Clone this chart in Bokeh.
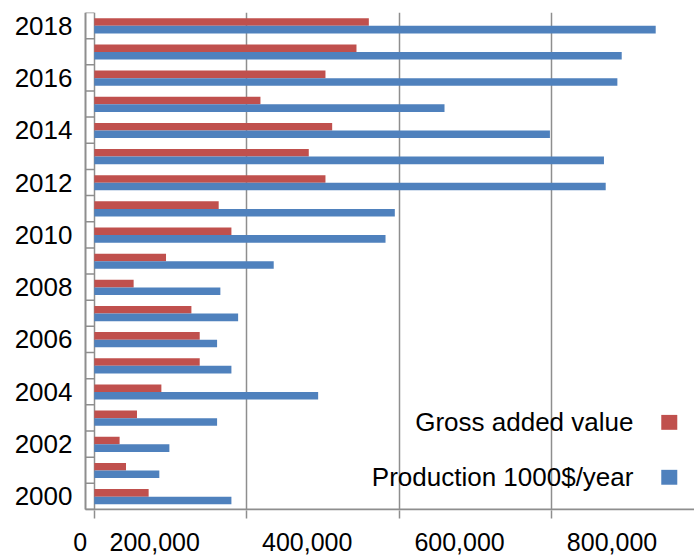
from bokeh.plotting import figure
from bokeh.models import FixedTicker, LinearAxis, Range1d, Label, BoxAnnotation, ColumnDataSource, Span
from bokeh.embed import file_html
from bokeh.resources import INLINE

# ---- data ----
years = list(range(2000, 2019))
gross_added_value = [71300, 41600, 33200, 56000, 88000, 138300, 138300, 127400, 51600, 94100,
                     179900, 163200, 303300, 281400, 312100, 218000, 303300, 344000, 360200]
production = [179900, 85300, 98500, 161100, 293700, 179900, 161100, 188700, 165400, 235400,
              382100, 394300, 671000, 668700, 597800, 459500, 686300, 692000, 736600]
x_tick_values = [0, 200000, 400000, 600000, 800000]
x_tick_labels = ["0", "200,000", "400,000", "600,000", "800,000"]
y_tick_years = list(range(2000, 2019, 2))

RED = "#C0504D"
BLUE = "#4F81BD"
GRAY = "#8E8E8E"
FONT = "Liberation Sans"

x_start, x_end = -27300, 787500      # frame extends a little left of the value axis
axis_x = -11550                      # where the vertical axis line sits
y_start, y_end = years[0] - 0.5 - 0.04, years[-1] + 0.5
p = figure(width=694, height=559,
           x_range=Range1d(x_start, x_end), y_range=Range1d(y_start, y_end),
           output_backend="svg", toolbar_location=None,
           min_border_left=73, min_border_right=0, min_border_top=12, min_border_bottom=49,
           outline_line_color=None, background_fill_color="white", border_fill_color="white")

src = ColumnDataSource(dict(
    y_red=[y + 0.135 for y in years],
    y_blue=[y - 0.155 for y in years],
    gav=gross_added_value,
    prod=production,
))
p.hbar(y="y_red", left=0, right="gav", height=0.29, source=src, fill_color=RED, line_color=None)
p.hbar(y="y_blue", left=0, right="prod", height=0.29, source=src, fill_color=BLUE, line_color=None)

# axis lines and category boundary ticks
bounds = [y - 0.5 for y in years] + [years[-1] + 0.5]
p.segment(x0=[axis_x] * len(bounds), x1=[0] * len(bounds), y0=bounds, y1=bounds,
          line_color=GRAY, line_width=1.5)
p.segment(x0=[axis_x], x1=[x_end], y0=[years[0] - 0.5], y1=[years[0] - 0.5],
          line_color=GRAY, line_width=2)
p.segment(x0=[axis_x], x1=[axis_x], y0=[years[0] - 0.5], y1=[years[-1] + 0.5],
          line_color=GRAY, line_width=2)

# grid
p.ygrid.visible = False
p.xgrid.ticker = FixedTicker(ticks=x_tick_values)
p.xgrid.grid_line_color = GRAY
p.xgrid.grid_line_width = 1.5

# x axis (tick marks only)
xa = p.xaxis[0]
xa.ticker = FixedTicker(ticks=x_tick_values)
xa.major_label_overrides = {v: "" for v in x_tick_values}
xa.major_label_text_font_size = "1px"
xa.major_label_standoff = 0
xa.major_tick_out = 8
xa.major_tick_in = 0
xa.major_tick_line_color = GRAY
xa.major_tick_line_width = 1.5
xa.minor_tick_line_color = None
xa.axis_line_color = None

# x axis labels, shifted left of the gridlines as in the reference
label_shift = [-18400] + [-120700] * (len(x_tick_values) - 1)
label_pos = [v + s for v, s in zip(x_tick_values, label_shift)]
xa2 = LinearAxis(ticker=FixedTicker(ticks=label_pos),
                 major_label_overrides={pos: lab for pos, lab in zip(label_pos, x_tick_labels)},
                 axis_line_color=None, major_tick_line_color=None, minor_tick_line_color=None,
                 major_tick_out=0, major_tick_in=0,
                 major_label_text_font_size="25px", major_label_text_font=FONT,
                 major_label_text_color="black", major_label_standoff=14)
p.add_layout(xa2, "below")

# y axis
ya = p.yaxis[0]
ya.ticker = FixedTicker(ticks=y_tick_years)
ya.major_tick_line_color = None
ya.major_tick_out = 0
ya.major_tick_in = 0
ya.minor_tick_line_color = None
ya.major_label_standoff = 1
ya.axis_line_color = None
ya.major_label_text_font_size = "26px"
ya.major_label_text_font = FONT
ya.major_label_text_color = "black"

# legend (label left of swatch)
legend_items = [("Gross added value", RED, 2002.83), ("Production 1000$/year", BLUE, 2000.73)]
for text, col, yc in legend_items:
    p.add_layout(Label(x=707400, y=yc, text=text, text_align="right", text_baseline="middle",
                       text_font_size="26px", text_font=FONT, text_color="black"))
    p.add_layout(BoxAnnotation(left=743900, right=764900, bottom=yc - 0.285, top=yc + 0.285,
                               fill_color=col, fill_alpha=1, line_color=None))

open("out.html", "w").write(file_html(p, INLINE))
